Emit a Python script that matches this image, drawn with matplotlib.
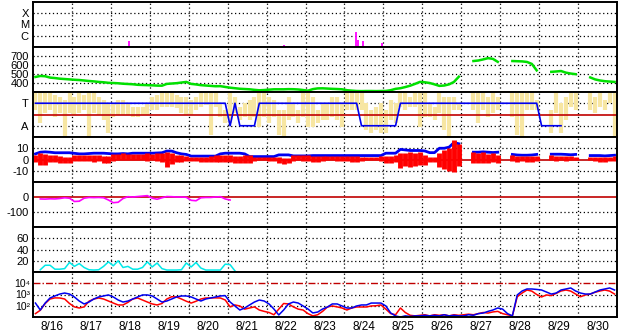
import numpy as np
import matplotlib
matplotlib.use("Agg")
import matplotlib.pyplot as plt
from matplotlib.ticker import NullLocator

plt.rcParams['font.family'] = ['Liberation Sans', 'DejaVu Sans']

nan = np.nan

# time axis: 3-hour bins starting 8/16 00:00 (hours)
hours = np.arange(0, 360, 3) + 1.5
days = ['8/16', '8/17', '8/18', '8/19', '8/20', '8/21', '8/22', '8/23',
        '8/24', '8/25', '8/26', '8/27', '8/28', '8/29', '8/30']

# x-ray flares (hour, peak flux W/m2)
flare_hours = [46, 59, 70, 155, 199, 200.5, 203.5, 215]
flare_flux = [1.3e-7, 3.4e-7, 1.2e-7, 1.5e-7, 2.1e-6, 4.2e-7, 3.4e-7, 2.3e-7]

# solar wind speed km/s
speed = [467, 478, 475, 460, 455, 448, 444, 440,
         436, 433, 428, 422, 418, 412, 408, 402,
         400, 397, 392, 389, 386, 380, 378, 376,
         374, 371, 370, 390, 394, 398, 405, 412,
         390, 384, 376, 372, 368, 364, 365, 356,
         348, 342, 336, 333, 330, 324, 319, 322,
         326, 330, 330, 330, 332, 331, 328, 322,
         315, 332, 340, 341, 338, 335, 333, 330,
         320, 315, 311, 310, 311, 311, 310, 311,
         312, 320, 335, 342, 355, 370, 390, 412,
         408, 400, 385, 368, 372, 385, 412, 470,
         nan, nan, 644, 650, 662, 676, 668, 635,
         nan, nan, 644, 642, 640, 634, 612, 540,
         nan, nan, 524, 528, 533, 515, 505, 498,
         nan, nan, 462, 440, 428, 420, 416, 412]

# IMF phi angle spread (deg) per bin
phi_hi = [349, 349, 349, 349, 336, 323, 296, 349,
          323, 349, 336, 349, 349, 323, 296, 269,
          269, 296, 296, 269, 243, 243, 243, 269,
          323, 336, 349, 349, 349, 336, 323, 323,
          296, 323, 349, 349, 349, 349, 269, 216,
          349, 323, 243, 269, 296, 323, 349, 349,
          323, 296, 216, 216, 323, 269, 216, 349,
          349, 323, 216, 269, 269, 323, 323, 269,
          349, 349, 349, 349, 269, 216, 243, 269,
          216, 296, 269, 349, 349, 323, 349, 349,
          349, 269, 243, 349, 323, 323, 323, 269,
          nan, nan, 349, 349, 349, 323, 349, 323,
          nan, nan, 349, 349, 349, 349, 349, 296,
          nan, nan, 216, 349, 269, 323, 349, 349,
          nan, nan, 349, 323, 349, 296, 349, 349]
phi_lo = [216, 109, 189, 216, 163, 189, 3, 189,
          176, 189, 216, 3, 189, 176, 136, 29,
          163, 176, 176, 176, 163, 163, 176, 176,
          216, 216, 243, 243, 243, 229, 189, 176,
          176, 216, 243, 256, 16, 243, 163, 109,
          109, 189, 136, 163, 136, 163, 83, 163,
          109, 163, 16, 3, 136, 163, 109, 163,
          83, 83, 109, 136, 136, 163, 136, 83,
          216, 216, 216, 216, 56, 29, 56, 29,
          29, 136, 109, 243, 216, 243, 243, 83,
          163, 163, 136, 189, 56, 3, 216, 216,
          nan, nan, 216, 109, 216, 163, 189, 216,
          nan, nan, 163, 16, 3, 216, 216, 216,
          nan, nan, 29, 189, 29, 136, 243, 216,
          nan, nan, 216, 189, 243, 216, 269, 3]

# sector polarity runs (T toward, A away, '-' no data), in 3-hour bins
sector_runs = [('T', 40), ('A', 1), ('T', 1), ('A', 4), ('T', 21),
               ('A', 8), ('T', 29), ('A', 5), ('-', 11)]

# IMF Bt and Bz range (nT)
bt = [5.0, 6.5, 6.8, 6.5, 6.0, 6.0, 6.0, 6.0,
      5.5, 5.0, 5.0, 5.3, 5.6, 5.6, 5.6, 5.3,
      5.0, 5.0, 5.3, 5.0, 5.6, 5.6, 5.6, 5.6,
      5.6, 5.8, 6.0, 7.5, 7.5, 6.0, 5.0, 4.5,
      3.0, 3.0, 3.0, 3.0, 3.0, 3.0, 5.0, 5.6,
      5.6, 5.6, 5.6, 5.0, 2.6, 2.6, 2.6, 2.6,
      2.6, 2.6, 4.1, 4.1, 4.1, 3.2, 3.2, 3.2,
      3.2, 3.5, 3.5, 3.5, 3.5, 3.5, 3.5, 3.5,
      3.5, 3.5, 3.5, 3.5, 3.5, 3.5, 3.5, 3.5,
      5.6, 5.6, 5.6, 9.0, 8.5, 8.0, 8.0, 8.0,
      7.6, 6.1, 6.1, 10, 10, 11, 15, 14,
      nan, nan, 6.5, 6.5, 6.8, 6.5, 6.2, 6.5,
      nan, nan, 4.5, 4.0, 3.8, 3.8, 4.0, 4.5,
      nan, nan, 4.7, 4.7, 4.7, 4.5, 4.2, 4.5,
      nan, nan, 3.5, 3.5, 3.5, 3.2, 3.5, 3.8]
bz_hi = [4, 5.6, 5, 4, 4, 3.5, 2.6, 2.6,
         4, 4, 4, 4, 4, 4, 3, 3,
         5, 5, 5.6, 5, 4.5, 4.5, 5, 5.6,
         5, 5.6, 6, 7, 6, 4, 4, 3,
         2.6, 2.6, 2.6, 2.6, 3, 4, 4, 4.1,
         4, 3, 3, 4, 4, 2.6, 2.6, 2.6,
         2.6, 2.6, 2, 1, 1.5, 4, 4, 4,
         4, 3.5, 3.5, 3, 3, 3, 3, 3,
         3, 3, 3, 2.6, 2.6, 2.6, 2.6, 3,
         3, 3, 4, 5.6, 5.6, 7, 6, 7,
         4, 2.6, 2.6, 5.6, 8.5, 10, 17, 14,
         nan, nan, 7, 5.6, 7, 5, 5.6, 4,
         nan, nan, 4, 3, 3, 3, 3, 3,
         nan, nan, 4, 3.5, 3, 3, 3, 2.6,
         nan, nan, 2.6, 2.6, 2.6, 2, 2.6, 3]
bz_lo = [-2, -4.8, -4.5, -2, -2.5, -3.4, -3.4, -3.4,
         -1, -1, -1.5, -1.5, -2, -1.5, -3.4, -3.4,
         -1, -0.5, -0.5, -0.5, 0, 0, -0.5, -1,
         -0.5, -1, -2, -6.3, -4, -1.9, -1.9, -1,
         -1, -1.5, -1.9, -1.9, -2, -1.9, -2.5, -2,
         -2.5, -3.4, -3.4, -3.4, -3, -1, -0.5, -0.5,
         -1, -1, -3.4, -3.8, -3.4, -1, -0.8, -1.5,
         -1.5, -1.9, -1.9, -1, -0.8, -0.8, -1, -1,
         -1.5, -1.9, -1.9, -1.5, -0.5, -0.8, -0.5, -1.5,
         -3.4, -3.4, -2, -7.8, -6, -6.3, -6, -5,
         -4.8, -1.9, -1.9, -7, -8.5, -10, -10.7, -6,
         nan, nan, -3.4, -3.4, -3, -3.4, -2.5, -3.4,
         nan, nan, -1.5, -1.9, -1.5, -1.9, -1.9, -1,
         nan, nan, -0.8, -1, -0.5, -1, -0.5, -0.5,
         nan, nan, -0.5, -1.5, -1.9, -1.9, -1.5, -1]

# Dst index (nT), only until 8/21
dst = [nan, -13, -14, -12, -13, -10, -5, -8,
       -30, -28, -8, -3, -4, -3, -5, -20,
       -38, -35, -10, 2, 0, 3, 6, 9,
       -8, -15, -5, 3, 2, 0, 0, -2,
       -22, -25, -5, -3, -3, 0, 2, -13,
       -20]

# cyan index, only until 8/21
cyan_idx = [nan, 4, 12, 12, 5, 5, 6, 17,
            10, 15, 8, 4, 3.5, 4, 10, 18,
            11, 20, 8, 10, 5, 5, 8, 18,
            9, 16, 6, 3.5, 3.5, 3.5, 4, 16,
            9, 17, 7, 3.5, 3.5, 3.5, 3.5, 14,
            13, 2]

# electron flux, log10
elec_blue = [2.24, 1.62, 2.24, 2.69, 2.87, 3.04, 3.13, 3.04,
             2.78, 2.42, 2.16, 2.33, 2.6, 2.78, 2.87, 2.96,
             2.78, 2.51, 2.33, 2.42, 2.6, 2.78, 2.96, 2.96,
             2.87, 2.6, 2.33, 2.42, 2.6, 2.78, 2.87, 2.87,
             2.78, 2.6, 2.42, 2.6, 2.69, 2.78, 2.87, 2.9,
             2.33, 1.98, 1.62, 1.8, 2.07, 2.33, 2.51, 2.42,
             2.16, 1.71, 1.18, 1.62, 2.16, 2.33, 2.24, 1.98,
             1.71, 1.36, 1.44, 1.71, 1.89, 2.16, 2.16, 1.98,
             1.8, 1.8, 1.98, 2.07, 2.07, 2.24, 2.24, 2.24,
             1.98, 1.36, 1.09, 1.0, 1.1, 1.05, 1.1, 1.1,
             1.15, 1.1, 1.15, 1.1, 1.2, 1.1, 1.15, 1.1,
             1.1, 1.2, 1.15, 1.3, 1.35, 1.5, 1.62, 1.8,
             1.7, 1.3, 1.1, 2.96, 3.31, 3.49, 3.49, 3.45,
             3.4, 3.22, 3.04, 3.13, 3.4, 3.49, 3.58, 3.31,
             3.13, 3.04, 3.04, 3.22, 3.4, 3.49, 3.58, 3.4]
elec_red = [1.3, 1.6, 2.2, 2.6, 2.7, 2.69, 2.6, 2.2,
            1.9, 1.8, 1.9, 2.4, 2.6, 2.69, 2.6, 2.42,
            2.24, 2.07, 2.07, 2.3, 2.6, 2.69, 2.51, 2.33,
            2.16, 2.07, 2.2, 2.6, 2.8, 2.78, 2.6, 2.4,
            2.24, 2.4, 2.6, 2.69, 2.69, 2.7, 2.69, 2.51,
            1.9, 2.07, 1.98, 1.7, 1.8, 1.9, 1.62, 1.5,
            1.4, 1.2, 1.7, 2.2, 2.16, 1.9, 1.7, 1.62,
            1.3, 1.1, 1.2, 1.5, 1.89, 1.98, 1.9, 1.8,
            1.62, 1.8, 1.89, 1.89, 1.89, 1.98, 2.0, 2.07,
            1.7, 1.3, 1.2, 1.8, 1.4, 1.15, 1.1, 1.15,
            1.2, 1.1, 1.2, 1.15, 1.2, 1.1, 1.2, 1.15,
            1.2, 1.25, 1.2, 1.3, 1.4, 1.35, 1.45, 1.5,
            1.3, 1.2, 1.1, 2.8, 3.13, 3.4, 3.3, 3.0,
            2.78, 2.96, 2.9, 3.1, 3.31, 3.4, 3.3, 3.04,
            2.8, 2.96, 3.04, 3.2, 3.31, 3.4, 3.3, 3.04]

DOT = (0, (1, 2.1))
DARKRED = '#C00000'
W, H = 628, 334
fig = plt.figure(figsize=(W / 100, H / 100), dpi=100)
fig.patch.set_facecolor('white')

axes = []
for k in range(7):
    top = 2 + 45 * k
    ax = fig.add_axes([33 / W, 1 - (top + 45) / H, 584 / W, 45 / H])
    ax.set_xlim(0, 360)
    ax.set_xticks(np.arange(24, 360, 24))
    ax.set_xticklabels([])
    ax.xaxis.grid(True, color='black', linestyle=DOT, linewidth=0.9)
    ax.tick_params(which='both', length=0, labelsize=8, pad=3)
    for s in ax.spines.values():
        s.set_linewidth(1.4)
    axes.append(ax)


def hgrid(ax, levels):
    for lv in levels:
        ax.axhline(lv, color='black', linestyle=DOT, linewidth=0.9, zorder=0.5)


# 1: x-ray
ax = axes[0]
ax.set_yscale('log')
ax.set_ylim(1e-7, 1e-3)
ax.yaxis.set_minor_locator(NullLocator())
ax.set_yticks([1e-6, 1e-5, 1e-4])
ax.set_yticklabels(['C', 'M', 'X'])
hgrid(ax, [1e-6, 1e-5, 1e-4])
ax.vlines(flare_hours, 1e-7, flare_flux, color='#FF00FF', linewidth=1.3)

# 2: speed
ax = axes[1]
ax.set_ylim(300, 800)
ax.set_yticks([400, 500, 600, 700])
hgrid(ax, [400, 500, 600, 700])
ax.plot(hours, speed, color='#00E000', linewidth=1.8)

# 3: sector / phi
ax = axes[2]
ax.set_ylim(0, 360)
ax.set_yticks([90, 270])
ax.set_yticklabels(['A', 'T'])
hgrid(ax, [90, 270])
ph_hi = np.array(phi_hi, float)
ph_lo = np.array(phi_lo, float)
ok = np.isfinite(ph_hi)
ax.vlines(hours[ok], ph_lo[ok], ph_hi[ok], color='#F7E6A2', linewidth=3.0)
ax.axhline(180, color=DARKRED, linewidth=1.2)
sector = []
for s, n in sector_runs:
    sector += [270 if s == 'T' else 90 if s == 'A' else nan] * n
ax.plot(hours, sector, color='#0000F0', linewidth=1.2)

# 4: Bt / Bz
ax = axes[3]
ax.set_ylim(-20, 20)
ax.set_yticks([-10, 0, 10])
ax.set_yticklabels(['-10', '0', '10'])
hgrid(ax, [-10, 10])
ax.axhline(0, color=DARKRED, linewidth=1.2)
ax.plot(hours, bt, color='#0000F0', linewidth=2.0)
lo = np.array(bz_lo, float)
hi = np.array(bz_hi, float)
ok = np.isfinite(hi)
ax.vlines(hours[ok], lo[ok], hi[ok], color='#FF0000', linewidth=3.5)

# 5: Dst
ax = axes[4]
ax.set_ylim(-200, 100)
ax.set_yticks([-100, 0])
ax.set_yticklabels(['-100', '0'])
hgrid(ax, [-100])
ax.axhline(0, color=DARKRED, linewidth=1.2)
ax.plot(hours[:len(dst)], dst, color='#FF00FF', linewidth=1.2)

# 6: cyan index
ax = axes[5]
ax.set_ylim(0, 80)
ax.set_yticks([20, 40, 60])
hgrid(ax, [20, 40, 60])
ax.plot(hours[:len(cyan_idx)], cyan_idx, color='#00E8E8', linewidth=1.1)

# 7: electrons
ax = axes[6]
ax.set_yscale('log')
ax.set_ylim(10, 1e5)
ax.yaxis.set_minor_locator(NullLocator())
ax.set_yticks([1e2, 1e3, 1e4])
ax.set_yticklabels(['10\u00b2', '10\u00b3', '10\u2074'])
ax.tick_params(axis='y', labelsize=7.5, pad=2)
hgrid(ax, [1e2, 1e3])
ax.axhline(1e4, color=DARKRED, linewidth=1.0, linestyle=(0, (5, 1.5, 1, 1.5)))
ax.plot(hours, 10 ** np.array(elec_red), color='#FF0000', linewidth=1.1)
ax.plot(hours, 10 ** np.array(elec_blue), color='#0000F0', linewidth=1.1)
ax.set_xticks(np.arange(12, 360, 24), minor=True)
ax.set_xticklabels(days, minor=True)
ax.tick_params(axis='x', which='minor', labelsize=8.5, pad=3)

fig.savefig('out.png', dpi=100, facecolor='white')
